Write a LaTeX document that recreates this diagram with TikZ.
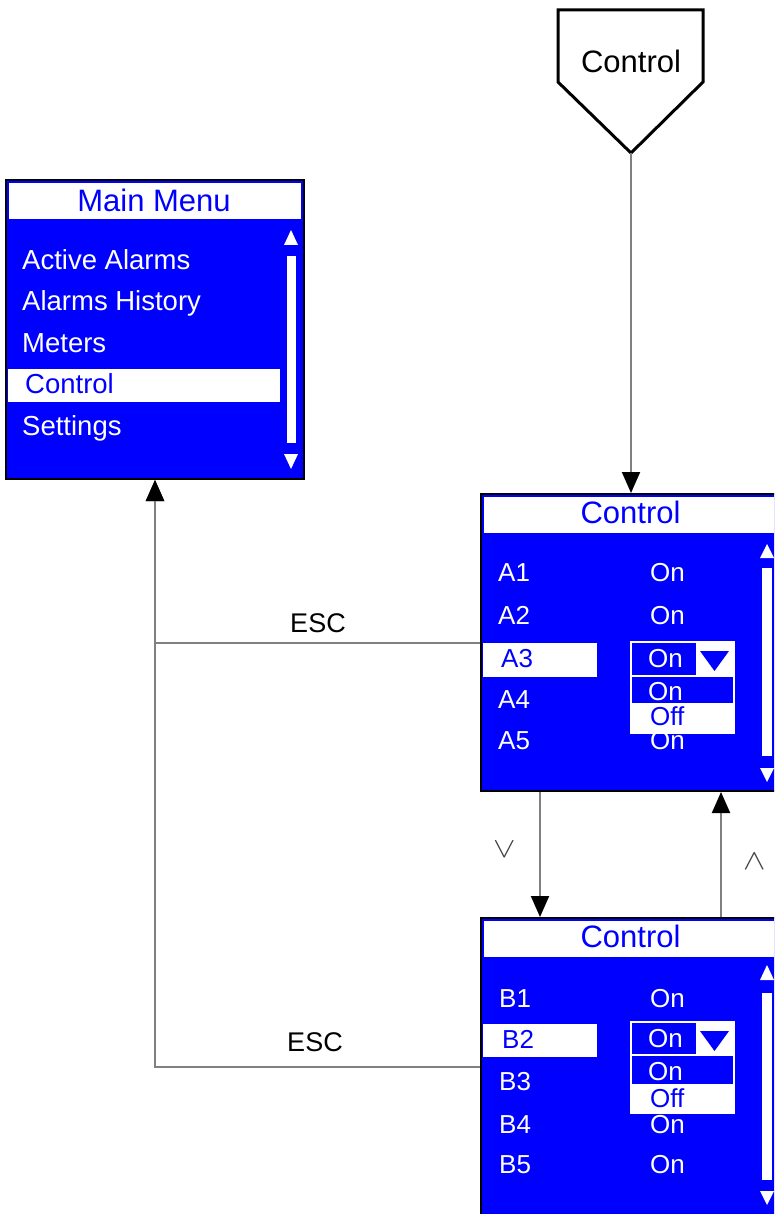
\documentclass[tikz,border=0pt]{standalone}
\usepackage{fontspec}
\usepackage{graphicx}
\setmainfont{Liberation Sans}
\usetikzlibrary{arrows.meta,calc}
\definecolor{scr}{RGB}{0,0,255}
\definecolor{ln}{RGB}{128,128,128}
\begin{document}
\begin{tikzpicture}[x=1pt,y=-1pt,
 screen/.style={draw=black, line width=2pt, fill=scr, inner sep=0pt, rectangle},
 hdr/.style={font=\fontsize{31}{31}\selectfont, text=scr, anchor=base, inner sep=0pt},
 mitem/.style={font=\fontsize{27.5}{27.5}\selectfont, text=white, anchor=base west, inner sep=0pt},
 citem/.style={font=\fontsize{26}{26}\selectfont, text=white, anchor=base west, inner sep=0pt},
 sel/.style={citem, text=scr},
 conn/.style={draw=ln, line width=2pt, -{Triangle[width=18pt,length=21pt,color=black]}},
 lbl/.style={font=\fontsize{27}{27}\selectfont, anchor=base, inner sep=0pt},
 chev/.style={font=\fontsize{24.88}{26}\selectfont, inner sep=0pt, text=black!75},
 ddline/.style={draw=white, line width=1.5pt},
]
\useasboundingbox (0,0) rectangle (774,1214);
\clip (0,0) rectangle (774,1214);

% off-page connector
\draw[line width=3pt, fill=white, line join=miter] (558,10) -- (703,10) -- (703,82) -- (631,153) -- (558,82) -- cycle;
\node[hdr, text=black] (offtxt) at (631,73) {Control};
\coordinate (offtip) at (631,153);

% Main menu
\node[screen, minimum width=298pt, minimum height=299pt] (main) at (155,329.5) {};
\fill[white] (9,183) rectangle (301,219);
\node[hdr] (mainT) at (154,212) {Main Menu};
\fill[white] (8,369) rectangle (280,402);
\node[mitem] (m1) at (22,270) {Active Alarms};
\node[mitem] (m2) at (22,310) {Alarms History};
\node[mitem] (m3) at (22,352) {Meters};
\node[mitem, text=scr] (m4) at (25,393) {Control};
\node[mitem] (m5) at (22,435) {Settings};
\fill[white] (291,230) -- (298,245) -- (284,245) -- cycle;
\fill[white] (287,256) rectangle (296,443);
\fill[white] (284,454) -- (298,454) -- (291,469) -- cycle;

% Control A
\node[screen, minimum width=300pt, minimum height=297pt] (ca) at (631,642.5) {};
\fill[white] (484,497) rectangle (778,533);
\node[hdr] (caT) at (630.5,523) {Control};
\fill[white] (483,643) rectangle (597,677);
\node[citem] (a1) at (498,581) {A1};
\node[citem] (a2) at (498,624) {A2};
\node[citem, text=scr] (a3) at (501,667) {A3};
\node[citem] (a4) at (498,708) {A4};
\node[citem] (a5) at (498,749) {A5};
\node[citem] (a1v) at (650,581) {On};
\node[citem] (a2v) at (650,624) {On};
\node[citem] (a5v) at (650,749) {On};
\fill[white] (767,544) -- (774,558) -- (760,558) -- cycle;
\fill[white] (762,568) rectangle (772,756);
\fill[white] (760,768) -- (774,768) -- (767,782) -- cycle;
% dropdown A
\fill[white] (696,642) rectangle (734,676);
\draw[ddline] (631,642) rectangle (734,676);
\fill[scr] (700,651) -- (729,651) -- (714.5,671) -- cycle;
\node[citem] (a3v) at (648,667) {On};
\draw[ddline, fill=scr] (631,676) rectangle (734,704);
\fill[white] (631,704) rectangle (734,733);
\draw[ddline] (631,676) rectangle (734,733);
\node[citem] (a3on) at (648,700) {On};
\node[sel] (a3off) at (650,725) {Off};

% Control B
\node[screen, minimum width=300pt, minimum height=400pt] (cb) at (631,1118) {};
\fill[white] (484,921) rectangle (778,957);
\node[hdr] (cbT) at (630.5,947) {Control};
\fill[white] (483,1024) rectangle (597,1057);
\node[citem] (b1) at (499,1007) {B1};
\node[citem, text=scr] (b2) at (502,1048) {B2};
\node[citem] (b3) at (499,1090) {B3};
\node[citem] (b4) at (499,1133) {B4};
\node[citem] (b5) at (499,1173) {B5};
\node[citem] (b1v) at (650,1007) {On};
\node[citem] (b4v) at (650,1133) {On};
\node[citem] (b5v) at (650,1173) {On};
\fill[white] (767,965) -- (774,980) -- (760,980) -- cycle;
\fill[white] (762,993) rectangle (772,1180);
\fill[white] (760,1191) -- (774,1191) -- (767,1205) -- cycle;
% dropdown B
\fill[white] (696,1022) rectangle (734,1055);
\draw[ddline] (631,1022) rectangle (734,1055);
\fill[scr] (700,1031) -- (729,1031) -- (714.5,1051) -- cycle;
\node[citem] (b2v) at (648,1047) {On};
\draw[ddline, fill=scr] (631,1055) rectangle (734,1085);
\fill[white] (631,1085) rectangle (734,1113);
\draw[ddline] (631,1055) rectangle (734,1113);
\node[citem] (b2on) at (648,1080) {On};
\node[sel] (b2off) at (650,1107) {Off};

% connectors
\draw[conn] (offtip) -- (ca.north);
\draw[conn] ([xshift=-91pt]ca.south) -- ([xshift=-91pt]cb.north);
\draw[conn] ([xshift=90pt]cb.north) -- ([xshift=90pt]ca.south);
\draw[conn] (ca.west) -| (main.south);
\draw[conn] ([yshift=51pt]cb.west) -| (main.south);

\node[lbl] (esc1) at (318,632) {ESC};
\node[lbl] (esc2) at (315,1051) {ESC};
\node[chev] (dn) at (505,850) {\scalebox{1.35}[1.15]{$\vee$}};
\node[chev] (up) at (755,862) {\scalebox{1.35}[1.15]{$\wedge$}};
\end{tikzpicture}
\end{document}
